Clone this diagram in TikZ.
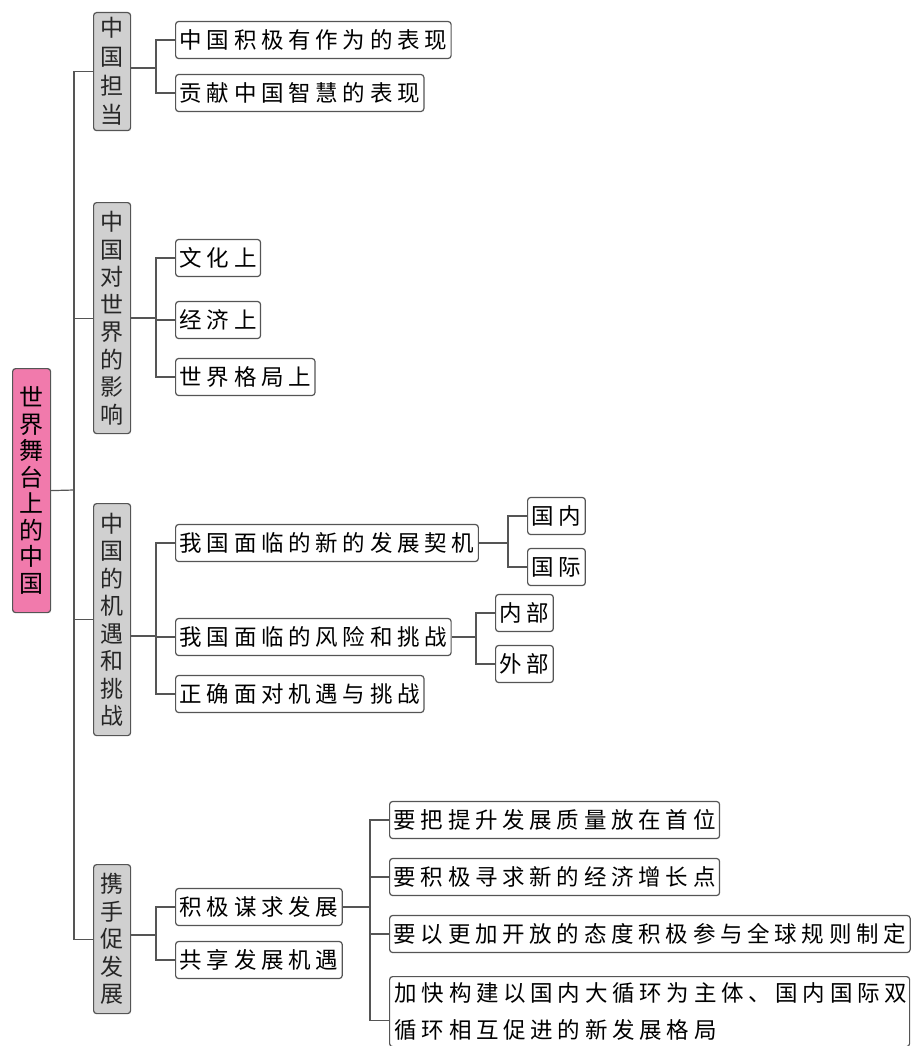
\documentclass[tikz,border=0pt]{standalone}
\usepackage{fontspec}
\newfontfamily\cjk{Noto Sans CJK SC}
\newfontfamily\cjkleaf[LetterSpace=21]{Noto Sans CJK SC}
\usetikzlibrary{positioning}
\definecolor{rootpink}{RGB}{241,122,172}
\definecolor{catgray}{RGB}{208,208,208}
\definecolor{linegray}{RGB}{85,85,85}

\begin{document}
\begin{tikzpicture}[x=1pt, y=-1pt, line width=1.2pt,
    root/.style={draw=linegray, fill=rootpink, rounded corners=3pt, anchor=north west,
      minimum width=38pt, text width=26pt, align=center, inner sep=0pt,
      font=\cjk\fontsize{24}{26.5}\selectfont},
    cat/.style={draw=linegray, fill=catgray, rounded corners=3pt, anchor=north west,
      minimum width=37pt, text width=26pt, align=center, inner sep=0pt,
      text=black!85, font=\cjk\fontsize{23}{#1}\selectfont},
    leaf/.style={draw=linegray, fill=white, rounded corners=3pt, anchor=west,
      minimum height=37pt, inner xsep=4pt, inner ysep=0pt,
      font=\cjkleaf\fontsize{22.5}{37}\selectfont},
    link/.style={draw=linegray}]
  \useasboundingbox (0,0) rectangle (910,1046);

  % root and the four branches
  \node[root, minimum height=244pt] (root) at (12,368) {世\\界\\舞\\台\\上\\的\\中\\国};
  \node[cat=29, minimum height=118pt] (cat_1) at (93,12) {中\\国\\担\\当};
  \node[cat=27.5, minimum height=231pt] (cat_2) at (93,202) {中\\国\\对\\世\\界\\的\\影\\响};
  \node[cat=27.5, minimum height=232pt] (cat_3) at (93,503) {中\\国\\的\\机\\遇\\和\\挑\\战};
  \node[cat=27.5, minimum height=149pt] (cat_4) at (93,864) {携\\手\\促\\发\\展};

  \coordinate (trunk) at (74,490);
  \draw[link] (root.east) -- (trunk);
  \foreach \c in {1,...,4}
    \draw[link] (trunk) |- (cat_\c.west);

  % 中国担当
  \node[leaf] (l_1_1) at (175,40) {中国积极有作为的表现};
  \node[leaf] (l_1_2) at (175,93) {贡献中国智慧的表现};
  % 中国对世界的影响
  \node[leaf] (l_2_1) at (175,258) {文化上};
  \node[leaf] (l_2_2) at (175,320) {经济上};
  \node[leaf] (l_2_3) at (175,377) {世界格局上};
  % 中国的机遇和挑战
  \node[leaf] (l_3_1) at (175,543) {我国面临的新的发展契机};
  \node[leaf] (l_3_2) at (175,637) {我国面临的风险和挑战};
  \node[leaf] (l_3_3) at (175,694) {正确面对机遇与挑战};
  \node[leaf] (m_1) at (527,516) {国内};
  \node[leaf] (m_2) at (527,567) {国际};
  \node[leaf] (m_3) at (495,613) {内部};
  \node[leaf] (m_4) at (495,664) {外部};
  % 携手促发展
  \node[leaf] (l_4_1) at (175,907) {积极谋求发展};
  \node[leaf] (l_4_2) at (175,960) {共享发展机遇};
  \node[leaf] (n_1) at (389,820) {要把提升发展质量放在首位};
  \node[leaf] (n_2) at (389,877) {要积极寻求新的经济增长点};
  \node[leaf] (n_3) at (389,934) {要以更加开放的态度积极参与全球规则制定};
  \node[leaf, anchor=north west, minimum width=520pt, minimum height=70pt,
    text width=510pt, align=left] (n_4) at (389,976)
    {加快构建以国内大循环为主体、国内国际双\\循环相互促进的新发展格局};

  % junctions
  \coordinate (j_1) at (156,68);
  \coordinate (j_2) at (156,318);
  \coordinate (j_3) at (156,636);
  \coordinate (j_4) at (156,935);
  \coordinate (k_1) at (508,543);
  \coordinate (k_2) at (476,637);
  \coordinate (k_3) at (370,907);

  \draw[link] (cat_1.east |- j_1) -- (j_1);
  \draw[link] (cat_2.east |- j_2) -- (j_2);
  \draw[link] (cat_3.east |- j_3) -- (j_3);
  \draw[link] (cat_4.east |- j_4) -- (j_4);
  \foreach \l in {l_1_1,l_1_2} \draw[link] (j_1) |- (\l.west);
  \foreach \l in {l_2_1,l_2_2,l_2_3} \draw[link] (j_2) |- (\l.west);
  \foreach \l in {l_3_1,l_3_2,l_3_3} \draw[link] (j_3) |- (\l.west);
  \foreach \l in {l_4_1,l_4_2} \draw[link] (j_4) |- (\l.west);

  \draw[link] (l_3_1.east) -- (k_1);
  \draw[link] (l_3_2.east) -- (k_2);
  \draw[link] (l_4_1.east) -- (k_3);
  \foreach \l in {m_1,m_2} \draw[link] (k_1) |- (\l.west);
  \foreach \l in {m_3,m_4} \draw[link] (k_2) |- (\l.west);
  \foreach \l in {n_1,n_2,n_3} \draw[link] (k_3) |- (\l.west);
  \draw[link] (k_3) |- ([yshift=-9pt]n_4.west);
\end{tikzpicture}
\end{document}
